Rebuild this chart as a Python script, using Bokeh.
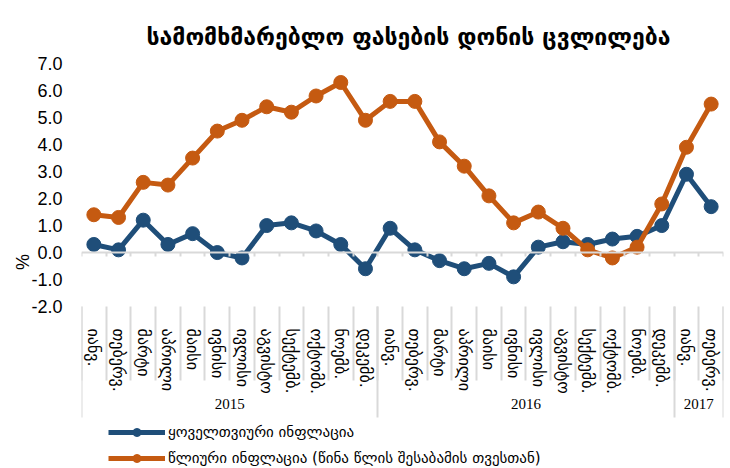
from bokeh.plotting import figure
from bokeh.models import (LinearAxis, FixedTicker, Range1d, Legend, LegendItem,
                          NumeralTickFormatter, ColumnDataSource)
from bokeh.embed import file_html
from bokeh.resources import INLINE

months = ["იანვ.", "თებერვ.", "მარტი", "აპრილი", "მაისი", "ივნისი", "ივლისი",
          "აგვისტო", "სექტემბ.", "ოქტომბ.", "ნოემბ.", "დეკემბ."]
years = ["2015", "2016", "2017"]
months_per_year = [12, 12, 2]
monthly = [0.3, 0.1, 1.2, 0.3, 0.7, 0.0, -0.2, 1.0, 1.1, 0.8, 0.3, -0.6,
           0.9, 0.1, -0.3, -0.6, -0.4, -0.9, 0.2, 0.4, 0.3, 0.5, 0.6, 1.0,
           2.9, 1.7]
annual = [1.4, 1.3, 2.6, 2.5, 3.5, 4.5, 4.9, 5.4, 5.2, 5.8, 6.3, 4.9,
          5.6, 5.6, 4.1, 3.2, 2.1, 1.1, 1.5, 0.9, 0.1, -0.2, 0.2, 1.8,
          3.9, 5.5]
y_ticks = [-2, -1, 0, 1, 2, 3, 4, 5, 6, 7]
title = "სამომხმარებლო ფასების დონის ცვლილება"
label_monthly = "ყოველთვიური ინფლაცია"
label_annual = "წლიური ინფლაცია (წინა წლის შესაბამის თვესთან)"

BLUE = "#1F4E79"
ORANGE = "#C55A11"
GRID = "#D9D9D9"
GEO = "DejaVu Sans"

n = len(monthly)
x = list(range(n))
month_labels = [months[i % 12] for i in range(n)]
boundaries = [i - 0.5 for i in range(n + 1)]
year_bounds = [-0.5]
year_centers = []
acc = 0
for m in months_per_year:
    year_centers.append(acc + (m - 1) / 2)
    acc += m
    year_bounds.append(acc - 0.5)

src = ColumnDataSource(dict(x=x, monthly=monthly, annual=annual))

# the frame runs down to the bottom of the picture; the category labels
# and the legend sit below the lowest value tick (-2.0)
p = figure(width=730, height=468, output_backend="svg", toolbar_location=None,
           x_range=Range1d(-0.5, n - 0.5), y_range=Range1d(-8.0, 7.3),
           min_border_left=81, min_border_right=7, min_border_top=55,
           min_border_bottom=0)
p.outline_line_color = None
p.xgrid.visible = False
p.ygrid.visible = False

p.title.text = title
p.title.align = "left"
p.title.offset = 65
p.title.standoff = 10
p.title.vertical_align = "middle"
p.title.text_font = GEO
p.title.text_font_style = "bold"
p.title.text_font_size = "23px"
p.title.text_color = "#000000"

# zero-line axis
xa = p.xaxis[0]
xa.fixed_location = 0
xa.ticker = FixedTicker(ticks=[], minor_ticks=boundaries)
xa.axis_line_color = GRID
xa.axis_line_width = 2
xa.major_tick_out = 0
xa.major_tick_in = 0
xa.major_label_standoff = 0
xa.minor_tick_out = 4
xa.minor_tick_in = 0
xa.minor_tick_line_color = GRID
xa.minor_tick_line_width = 2

# month labels + separators, hanging from the -2.0 level
ma = LinearAxis(ticker=FixedTicker(ticks=x, minor_ticks=boundaries),
                fixed_location=y_ticks[0])
ma.major_label_overrides = {i: lab for i, lab in enumerate(month_labels)}
ma.major_label_orientation = "vertical"
ma.major_label_text_font = GEO
ma.major_label_text_font_size = "16px"
ma.major_label_text_color = "#000000"
ma.major_label_standoff = -52
ma.axis_line_color = None
ma.major_tick_line_color = None
ma.major_tick_out = 0
ma.major_tick_in = 0
ma.minor_tick_out = 74
ma.minor_tick_in = 0
ma.minor_tick_line_color = GRID
ma.minor_tick_line_width = 2
p.add_layout(ma, "below")

# year labels + year separators
yl = LinearAxis(ticker=FixedTicker(ticks=year_centers, minor_ticks=year_bounds),
                fixed_location=y_ticks[0])
yl.major_label_overrides = {c: y for c, y in zip(year_centers, years)}
yl.major_label_text_font = "Liberation Serif"
yl.major_label_text_font_size = "15px"
yl.major_label_text_color = "#000000"
yl.major_label_standoff = -19
yl.axis_line_color = None
yl.major_tick_line_color = None
yl.major_tick_out = 0
yl.major_tick_in = 0
yl.minor_tick_out = 111
yl.minor_tick_in = 0
yl.minor_tick_line_color = GRID
yl.minor_tick_line_width = 2
p.add_layout(yl, "below")

# y axis
yax = p.yaxis[0]
yax.ticker = FixedTicker(ticks=y_ticks, minor_ticks=[])
yax.formatter = NumeralTickFormatter(format="0.0")
yax.axis_line_color = None
yax.major_tick_line_color = None
yax.major_tick_out = 0
yax.major_label_standoff = 19
yax.major_label_text_font = "Liberation Sans"
yax.major_label_text_font_size = "18px"
yax.major_label_text_color = "#000000"
yax.axis_label = "%"
yax.axis_label_text_font = "Liberation Sans"
yax.axis_label_text_font_size = "18px"
yax.axis_label_text_font_style = "normal"
yax.axis_label_text_color = "#000000"
yax.axis_label_standoff = -5

l1 = p.line("x", "monthly", source=src, line_color=BLUE, line_width=5)
s1 = p.scatter("x", "monthly", source=src, size=14, fill_color=BLUE, line_color=BLUE)
l2 = p.line("x", "annual", source=src, line_color=ORANGE, line_width=5)
s2 = p.scatter("x", "annual", source=src, size=14, fill_color=ORANGE, line_color=ORANGE)

legend = Legend(items=[LegendItem(label=label_monthly, renderers=[l1, s1]),
                       LegendItem(label=label_annual, renderers=[l2, s2])],
                location=(27, 0), orientation="vertical")
legend.border_line_color = None
legend.background_fill_alpha = 0
legend.padding = 0
legend.margin = 0
legend.spacing = 6
legend.glyph_width = 57
legend.glyph_height = 20
legend.label_height = 20
legend.label_standoff = 3
legend.label_text_font = GEO
legend.label_text_font_size = "15px"
legend.label_text_color = "#000000"
p.add_layout(legend, "center")

open("out.html", "w").write(file_html(p, INLINE))
